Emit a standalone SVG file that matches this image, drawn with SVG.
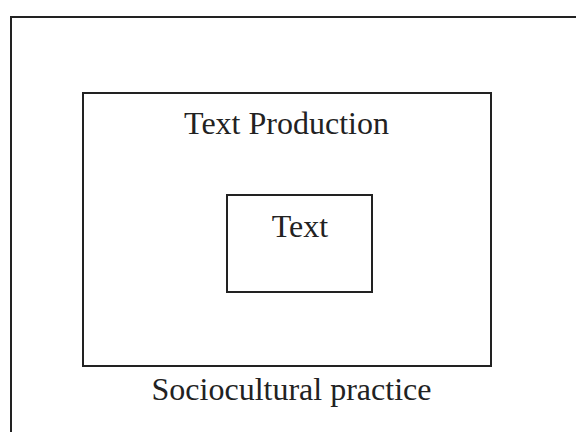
<svg xmlns="http://www.w3.org/2000/svg" width="576" height="432" viewBox="0 0 576 432">
<style>
.box{fill:none;stroke:#222;stroke-width:2}
.lbl{font-family:"Liberation Serif","Times New Roman",serif;font-size:32px;fill:#222;text-anchor:middle}
</style>
<rect width="576" height="432" fill="#fff"/>
<g id="sociocultural">
<rect class="box" x="11" y="17" width="580" height="430"/>
<text class="lbl" x="291.5" y="400">Sociocultural practice</text>
</g>
<g id="production">
<rect class="box" x="83" y="93" width="408" height="273"/>
<text class="lbl" x="286.5" y="134">Text Production</text>
</g>
<g id="text">
<rect class="box" x="227" y="195" width="145" height="97"/>
<text class="lbl" x="300" y="237">Text</text>
</g>
<g id="connectors"/>
</svg>
